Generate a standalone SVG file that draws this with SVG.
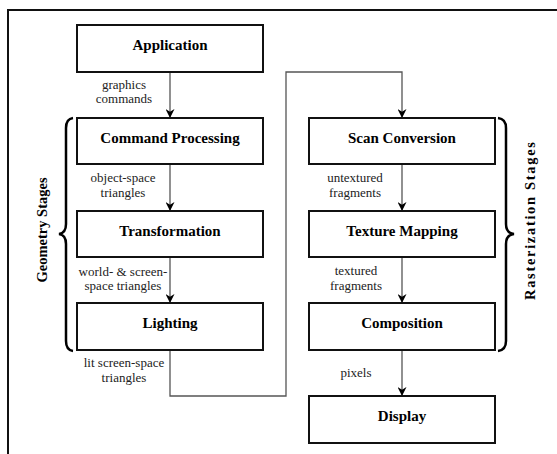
<svg xmlns="http://www.w3.org/2000/svg" width="557" height="454" viewBox="0 0 557 454" font-family="Liberation Serif, DejaVu Serif, serif">
<style>
.box{fill:#fff;stroke:#111;stroke-width:2}
.bt{font-family:"Liberation Serif",serif;font-size:15px;font-weight:bold;text-anchor:middle;fill:#000}
.lb{font-family:"Liberation Serif",serif;font-size:13px;text-anchor:middle;fill:#222}
.st{font-family:"Liberation Serif",serif;font-size:14.5px;font-weight:bold;text-anchor:middle;fill:#000}
.ln{fill:none;stroke:#555;stroke-width:1.3}
.br{fill:none;stroke:#000;stroke-width:2.5}
</style>
<defs>
<marker id="arr" viewBox="0 0 10 10" refX="10" refY="5" markerWidth="9" markerHeight="9" markerUnits="userSpaceOnUse" orient="auto">
<path d="M0,0 L10,5 L0,10 L3,5 z" fill="#000"/>
</marker>
</defs>
<rect x="8" y="10" width="600" height="500" fill="none" stroke="#111" stroke-width="2"/>
<g id="connectors">
<path class="ln" d="M170,72 L170,118" marker-end="url(#arr)"/>
<path class="ln" d="M170,164 L170,211" marker-end="url(#arr)"/>
<path class="ln" d="M170,257 L170,303" marker-end="url(#arr)"/>
<path class="ln" d="M170,350 L170,396 L286,396 L286,72 L402,72 L402,118" marker-end="url(#arr)"/>
<path class="ln" d="M402,164 L402,211" marker-end="url(#arr)"/>
<path class="ln" d="M402,257 L402,303" marker-end="url(#arr)"/>
<path class="ln" d="M402,350 L402,396" marker-end="url(#arr)"/>
<text class="lb" font-family="Liberation Serif" x="124" y="89">graphics</text>
<text class="lb" x="124" y="103">commands</text>
<text class="lb" x="123" y="182">object-space</text>
<text class="lb" x="123" y="197">triangles</text>
<text class="lb" x="123" y="276">world- &amp; screen-</text>
<text class="lb" x="123" y="290">space triangles</text>
<text class="lb" x="124" y="367">lit screen-space</text>
<text class="lb" x="124" y="382">triangles</text>
<text class="lb" x="355" y="182">untextured</text>
<text class="lb" x="355" y="197">fragments</text>
<text class="lb" x="356" y="275">textured</text>
<text class="lb" x="356" y="290">fragments</text>
<text class="lb" x="356" y="377">pixels</text>
</g>
<g id="application"><rect class="box" x="77" y="25" width="186" height="47"/><text class="bt" x="170" y="50">Application</text></g>
<g id="command-processing"><rect class="box" x="77" y="118" width="186" height="46"/><text class="bt" x="170" y="143">Command Processing</text></g>
<g id="transformation"><rect class="box" x="77" y="211" width="186" height="46"/><text class="bt" x="170" y="236">Transformation</text></g>
<g id="lighting"><rect class="box" x="77" y="303" width="186" height="47"/><text class="bt" x="170" y="328">Lighting</text></g>
<g id="scan-conversion"><rect class="box" x="309" y="118" width="186" height="46"/><text class="bt" x="402" y="143">Scan Conversion</text></g>
<g id="texture-mapping"><rect class="box" x="309" y="211" width="186" height="46"/><text class="bt" x="402" y="236">Texture Mapping</text></g>
<g id="composition"><rect class="box" x="309" y="303" width="186" height="47"/><text class="bt" x="402" y="328">Composition</text></g>
<g id="display"><rect class="box" x="309" y="396" width="186" height="47"/><text class="bt" x="402" y="421">Display</text></g>
<g id="geometry-stages">
<path class="br" d="M73,118 Q66,119 66,128 L66,224 Q66,233 59,234 Q66,235 66,244 L66,341 Q66,350 73,351"/>
<text class="st" transform="translate(47,230) rotate(-90)">Geometry Stages</text>
</g>
<g id="rasterization-stages">
<path class="br" d="M498,118 Q506,119 506,128 L506,224 Q506,233 514,234 Q506,235 506,244 L506,341 Q506,350 498,351"/>
<text class="st" transform="translate(535,221) rotate(-90)" textLength="158" lengthAdjust="spacing">Rasterization Stages</text>
</g>
</svg>
